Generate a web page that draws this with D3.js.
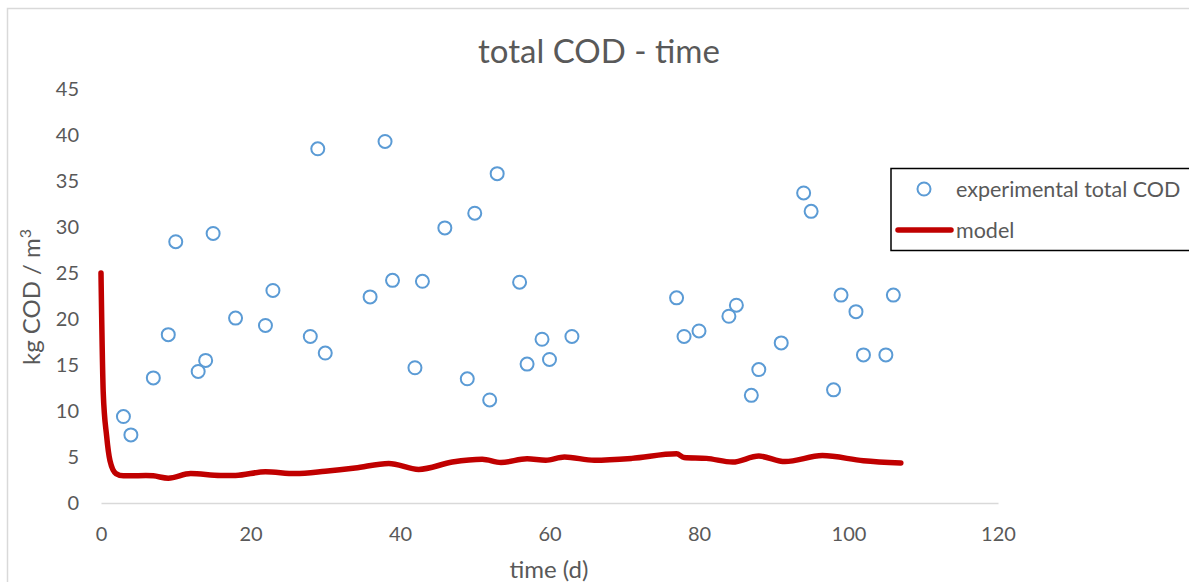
<!DOCTYPE html>
<html>
<head>
<meta charset="utf-8">
<script src="https://cdn.jsdelivr.net/npm/d3@7"></script>
<style>
  body { margin: 0; background: #fff; }
  text { font-family: Lato, "Open Sans", sans-serif; fill: #595959; }
</style>
</head>
<body>
<svg id="chart" width="1189" height="582"></svg>
<script>
// experimental measurements (day, kg COD/m3)
var expDays = [3, 4, 7, 9, 10, 13, 14, 15, 18, 22, 23, 28, 29, 30, 36, 38, 39, 42, 43, 46, 49, 50, 52, 53, 56, 57, 59, 60, 63,
               77, 78, 80, 84, 85, 87, 88, 91, 94, 95, 98, 99, 101, 102, 105, 106];
var expCOD = [9.4, 7.4, 13.6, 18.3, 28.4, 14.3, 15.5, 29.3, 20.1, 19.3, 23.1, 18.1, 38.5, 16.3, 22.4, 39.3, 24.2, 14.7, 24.1, 29.9,
              13.5, 31.5, 11.2, 35.8, 24.0, 15.1, 17.8, 15.6, 18.1, 22.3, 18.1, 18.7, 20.3, 21.5, 11.7, 14.5, 17.4, 33.7, 31.7,
              12.3, 22.6, 20.8, 16.1, 16.1, 22.6];

// model curve
var modelDays = [0, 0.3, 0.75, 1.2, 2, 3, 6, 7, 9, 12, 16, 18, 22, 26, 30, 34, 38.5, 42.5, 47, 51, 53.5, 57, 59.5, 62, 66, 71,
                 77, 78, 81, 84.5, 88, 91.5, 96.5, 102, 107];
var modelCOD = [25.0, 12, 7.3, 4.6, 3.2, 2.95, 3.0, 2.95, 2.7, 3.2, 3.0, 3.0, 3.4, 3.2, 3.45, 3.8, 4.3, 3.65, 4.45, 4.75, 4.4,
                4.8, 4.65, 5.0, 4.65, 4.85, 5.35, 4.95, 4.85, 4.45, 5.1, 4.5, 5.15, 4.6, 4.35];

var xTicks = [0, 20, 40, 60, 80, 100, 120];
var yTicks = [0, 5, 10, 15, 20, 25, 30, 35, 40, 45];

var svg = d3.select("#chart");

// outer chart border
svg.append("rect")
    .attr("x", 7.5).attr("y", 8.5)
    .attr("width", 1200).attr("height", 600)
    .attr("fill", "none")
    .attr("stroke", "#d9d9d9")
    .attr("stroke-width", 1.5);

var x = d3.scaleLinear().domain([0, 120]).range([101, 998]);
var y = d3.scaleLinear().domain([0, 45]).range([503, 89]);

// x axis
var xAxis = svg.append("g")
    .attr("transform", "translate(0," + y(0) + ")")
    .call(d3.axisBottom(x).tickValues(xTicks).tickSize(0).tickPadding(24));
xAxis.select(".domain").attr("stroke", "#d9d9d9").attr("stroke-width", 1.3);
xAxis.selectAll("text").style("font-size", "20px").attr("fill", "#595959");

// y axis
var yAxis = svg.append("g")
    .attr("transform", "translate(79,0)")
    .call(d3.axisLeft(y).tickValues(yTicks).tickSize(0).tickPadding(0));
yAxis.select(".domain").remove();
yAxis.selectAll("text").style("font-size", "20px").attr("fill", "#595959");

// title
svg.append("text")
    .attr("x", 599).attr("y", 63)
    .attr("text-anchor", "middle")
    .style("font-size", "33px")
    .text("total COD - time");

// axis titles
svg.append("text")
    .attr("x", 549).attr("y", 578)
    .attr("text-anchor", "middle")
    .style("font-size", "24px")
    .text("time (d)");

var yTitle = svg.append("text")
    .attr("transform", "translate(40,297) rotate(-90)")
    .attr("text-anchor", "middle")
    .style("font-size", "24px");
yTitle.append("tspan").text("kg COD / m");
yTitle.append("tspan").attr("dy", -9).style("font-size", "16px").text("3");

// model line
var line = d3.line()
    .x(d => x(d[0]))
    .y(d => y(d[1]))
    .curve(d3.curveMonotoneX);

svg.append("path")
    .datum(d3.zip(modelDays, modelCOD))
    .attr("d", line)
    .attr("fill", "none")
    .attr("stroke", "#c00000")
    .attr("stroke-width", 5.5)
    .attr("stroke-linecap", "round")
    .attr("stroke-linejoin", "round");

// experimental points
svg.selectAll(".pt")
    .data(d3.zip(expDays, expCOD))
    .enter()
    .append("circle")
    .attr("class", "pt")
    .attr("cx", d => x(d[0]))
    .attr("cy", d => y(d[1]))
    .attr("r", 6.5)
    .attr("fill", "#fff")
    .attr("stroke", "#5b9bd5")
    .attr("stroke-width", 2);

// legend
var legend = svg.append("g");
legend.append("rect")
    .attr("x", 891).attr("y", 168.5)
    .attr("width", 320).attr("height", 82)
    .attr("fill", "#fff")
    .attr("stroke", "#000")
    .attr("stroke-width", 1.5);
legend.append("circle")
    .attr("cx", 924).attr("cy", 189)
    .attr("r", 6.5)
    .attr("fill", "#fff")
    .attr("stroke", "#5b9bd5")
    .attr("stroke-width", 2);
legend.append("text")
    .attr("x", 956).attr("y", 197)
    .style("font-size", "21.5px")
    .text("experimental total COD");
legend.append("line")
    .attr("x1", 898).attr("x2", 951)
    .attr("y1", 230).attr("y2", 230)
    .attr("stroke", "#c00000")
    .attr("stroke-width", 5.5)
    .attr("stroke-linecap", "round");
legend.append("text")
    .attr("x", 956).attr("y", 238)
    .style("font-size", "21.5px")
    .text("model");
</script>
</body>
</html>
